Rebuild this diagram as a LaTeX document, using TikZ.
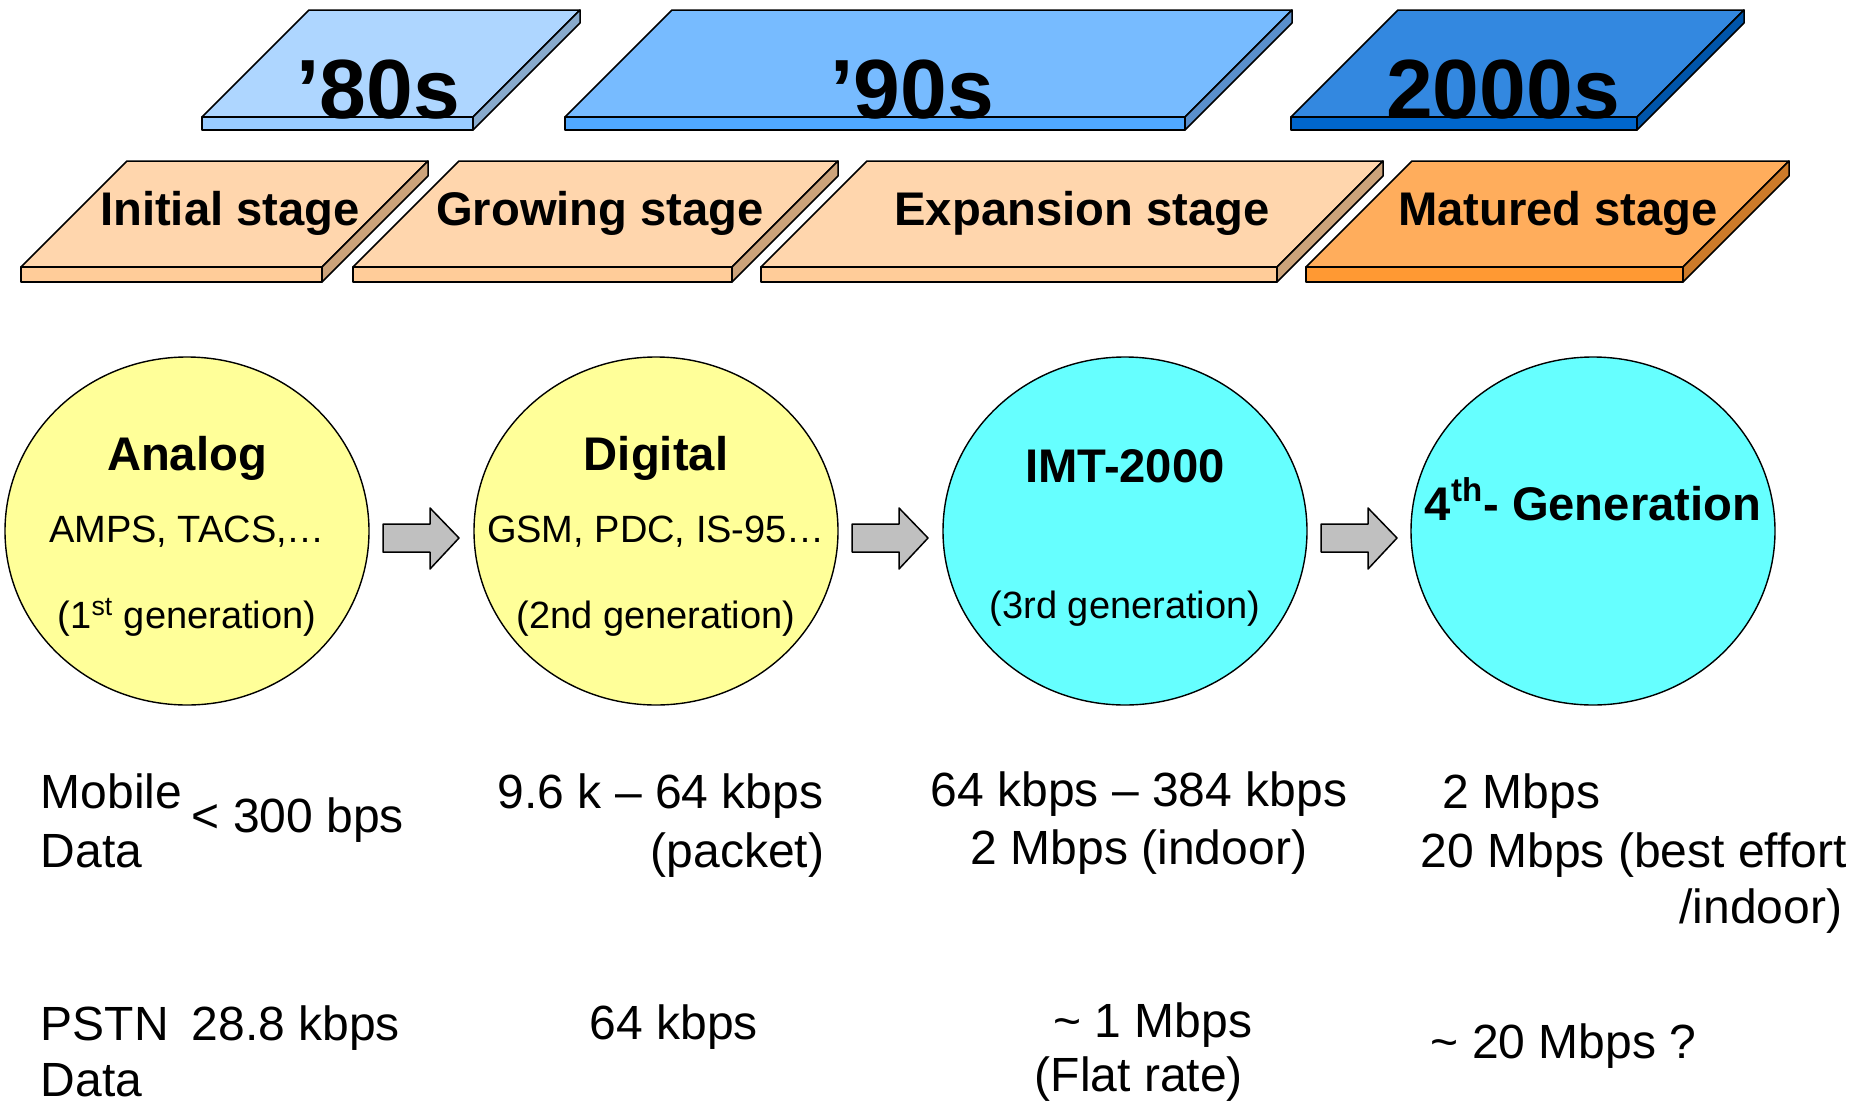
\documentclass[tikz,border=0pt]{standalone}
\usepackage{fontspec}
\setmainfont{Liberation Sans}
\usetikzlibrary{shapes.geometric,positioning}

\definecolor{eightytop}{RGB}{174,214,255}
\definecolor{eightyfront}{RGB}{153,204,255}
\definecolor{eightyside}{RGB}{136,170,204}
\definecolor{ninetytop}{RGB}{119,187,255}
\definecolor{ninetyfront}{RGB}{80,168,255}
\definecolor{ninetyside}{RGB}{90,143,204}
\definecolor{milltop}{RGB}{51,136,224}
\definecolor{millfront}{RGB}{0,102,204}
\definecolor{millside}{RGB}{0,85,170}
\definecolor{stagetop}{RGB}{255,214,173}
\definecolor{stagefront}{RGB}{255,204,153}
\definecolor{stageside}{RGB}{204,163,122}
\definecolor{mattop}{RGB}{255,173,92}
\definecolor{matfront}{RGB}{255,153,51}
\definecolor{matside}{RGB}{204,122,41}
\definecolor{oldgen}{RGB}{255,255,153}
\definecolor{newgen}{RGB}{102,255,255}
\definecolor{arrowgrey}{RGB}{192,192,192}

% slab: left x, right x, top y, bottom y, thickness, top, front, side
\newcommand{\slab}[8]{%
  \pgfmathsetmacro\slabd{#4-#3}
  \filldraw[fill=#6] (#1,#4) -- (#2,#4) -- ({#2+\slabd},#3) -- ({#1+\slabd},#3) -- cycle;
  \filldraw[fill=#7] (#1,#4) rectangle (#2,{#4+#5});
  \filldraw[fill=#8] (#2,#4) -- ({#2+\slabd},#3) -- ({#2+\slabd},{#3+#5}) -- (#2,{#4+#5}) -- cycle;
}

\tikzset{
  decade/.style={anchor=base, font=\bfseries\fontsize{42}{46}\selectfont},
  stagelbl/.style={anchor=base, font=\bfseries\fontsize{23.6}{27}\selectfont},
  gen/.style={ellipse, draw, line width=0.7pt, minimum width=182pt, minimum height=174pt, inner sep=0pt},
  gentitle/.style={anchor=base, font=\bfseries\fontsize{23.6}{27}\selectfont},
  gensub/.style={anchor=base, font=\fontsize{19}{22}\selectfont},
  rate/.style={font=\fontsize{24}{29}\selectfont, inner sep=0pt}
}

\begin{document}
\begin{tikzpicture}[x=0.5pt, y=-0.5pt, line width=0.75pt, line join=round]
\useasboundingbox (0,0) rectangle (1864,1103);

% decades
\slab{202}{473}{10}{117}{13}{eightytop}{eightyfront}{eightyside}
\slab{565}{1185}{10}{117}{13}{ninetytop}{ninetyfront}{ninetyside}
\slab{1291}{1637}{10}{117}{13}{milltop}{millfront}{millside}
\node[decade] (d80) at (378,118) {’80s};
\node[decade] (d90) at (912,118) {’90s};
\node[decade] (d00) at (1503,118) {2000s};

% stages
\slab{21}{322}{161}{267}{15}{stagetop}{stagefront}{stageside}
\slab{353}{732}{161}{267}{15}{stagetop}{stagefront}{stageside}
\slab{761}{1277}{161}{267}{15}{stagetop}{stagefront}{stageside}
\slab{1306}{1683}{161}{267}{15}{mattop}{matfront}{matside}
\node[stagelbl] (initial) at (230,225) {Initial stage};
\node[stagelbl] (growing) at (600,225) {Growing stage};
\node[stagelbl] (expansion) at (1082,225) {Expansion stage};
\node[stagelbl] (matured) at (1558,225) {Matured stage};

% generations
\node[gen, fill=oldgen] (analog) at (187,531) {};
\node[gen, fill=oldgen] (digital) at (656,531) {};
\node[gen, fill=newgen] (imt) at (1125,531) {};
\node[gen, fill=newgen] (fourth) at (1593,531) {};

\node[gentitle] (analogt) at (187,470) {Analog};
\node[gensub] (analogs) at (187,542) {AMPS, TACS,…};
\node[gensub] (analogg) at (187,628) {(1\textsuperscript{st} generation)};
\node[gentitle] (digitalt) at (656,470) {Digital};
\node[gensub] (digitals) at (656,542) {GSM, PDC, IS-95…};
\node[gensub] (digitalg) at (656,628) {(2nd generation)};
\node[gentitle] (imtt) at (1125,482) {IMT-2000};
\node[gensub] (imtg) at (1125,618) {(3rd generation)};
\node[gentitle] (fourtht) at (1593,520) {4\textsuperscript{th}- Generation};

% block arrows
\foreach \dx in {0,469,938}
  \filldraw[fill=arrowgrey] (383+\dx,524) -- (430+\dx,524) -- (430+\dx,508) -- (459+\dx,538)
    -- (430+\dx,569) -- (430+\dx,552) -- (383+\dx,552) -- cycle;

% mobile data rates
\node[rate, anchor=base west] (mob1) at (40,808) {Mobile};
\node[rate, anchor=base west] (mob2) at (40,867) {Data};
\node[rate, anchor=base west] (mobr1) at (191,832) {\textless{} 300 bps};
\node[rate, anchor=base west] (mobr2) at (497,808) {9.6 k – 64 kbps};
\node[rate, anchor=base east] (mobr2b) at (825,867) {(packet)};
\node[rate, anchor=base] (mobr3) at (1139,806) {64 kbps – 384 kbps};
\node[rate, anchor=base] (mobr3b) at (1139,864) {2 Mbps (indoor)};
\node[rate, anchor=base west] (mobr4) at (1442,808) {2 Mbps};
\node[rate, anchor=base west] (mobr4b) at (1420,867) {20 Mbps (best effort};
\node[rate, anchor=base east] (mobr4c) at (1843,923) {/indoor)};

% pstn data rates
\node[rate, anchor=base west] (pstn1) at (40,1040) {PSTN};
\node[rate, anchor=base west, text depth=0pt] (pstn2) at (40,1096) {Data};
\node[rate, anchor=base west] (pstnr1) at (191,1040) {28.8 kbps};
\node[rate, anchor=base] (pstnr2) at (674,1039) {64 kbps};
\node[rate, anchor=base] (pstnr3) at (1153,1037) {\textasciitilde{} 1 Mbps};
\node[rate, anchor=base] (pstnr3b) at (1139,1091) {(Flat rate)};
\node[rate, anchor=base west] (pstnr4) at (1430,1058) {\textasciitilde{} 20 Mbps ?};
\end{tikzpicture}
\end{document}
